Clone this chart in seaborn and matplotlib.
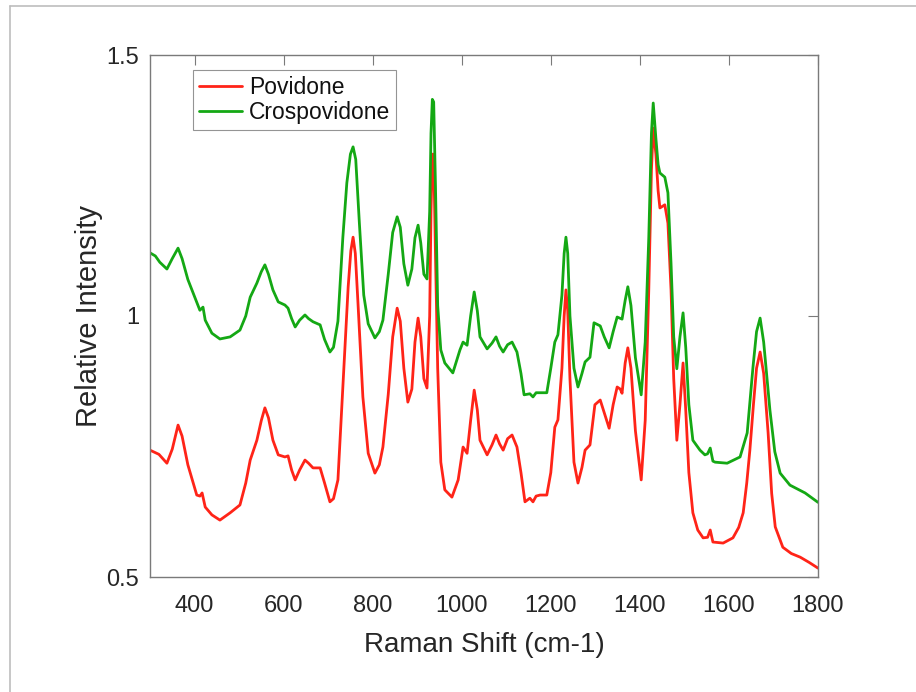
import numpy as np
import pandas as pd
import matplotlib
matplotlib.use("Agg")
import matplotlib.pyplot as plt
from matplotlib.lines import Line2D
import seaborn as sns

series_names = ["Povidone", "Crospovidone"]
series_colors = ["#ff2418", "#14a814"]

povidone_x = [300, 320, 338, 350, 363, 372, 385, 397, 405, 412, 417, 424, 439, 457, 480, 502, 515, 525, 540, 550,
              558, 566, 576, 588, 603, 610, 618, 626, 636, 648, 656, 666, 682, 692, 704, 712, 722, 733, 745, 751,
              756, 761, 767, 778, 790, 805, 815, 823, 835, 845, 855, 862, 870, 879, 888, 895, 902, 908, 915, 922,
              928, 931, 934, 937, 941, 946, 953, 962, 978, 992, 1003, 1012, 1020, 1028, 1035, 1041, 1057, 1068, 1077, 1085,
              1093, 1103, 1113, 1124, 1133, 1142, 1153, 1160, 1167, 1176, 1191, 1200, 1209, 1216, 1225, 1230, 1234, 1238, 1243, 1252,
              1261, 1270, 1277, 1288, 1299, 1311, 1320, 1331, 1340, 1349, 1356, 1360, 1367, 1373, 1380, 1390, 1403, 1412, 1420, 1426,
              1430, 1436, 1441, 1445, 1456, 1463, 1470, 1476, 1483, 1490, 1497, 1503, 1510, 1519, 1530, 1542, 1552, 1558, 1564, 1587,
              1609, 1622, 1632, 1640, 1647, 1655, 1662, 1670, 1678, 1688, 1696, 1704, 1721, 1740, 1760, 1780, 1800]
povidone_y = [0.743, 0.735, 0.718, 0.745, 0.791, 0.770, 0.715, 0.680, 0.657, 0.655, 0.661, 0.634, 0.619, 0.609, 0.623, 0.638, 0.680, 0.724, 0.762, 0.800,
              0.824, 0.805, 0.762, 0.734, 0.730, 0.732, 0.705, 0.686, 0.705, 0.724, 0.718, 0.709, 0.709, 0.680, 0.644, 0.650, 0.686, 0.864, 1.056, 1.125,
              1.151, 1.120, 1.025, 0.845, 0.737, 0.699, 0.715, 0.749, 0.850, 0.960, 1.015, 0.990, 0.900, 0.835, 0.860, 0.950, 0.996, 0.960, 0.880, 0.862,
              1.000, 1.200, 1.310, 1.310, 1.120, 0.900, 0.720, 0.667, 0.653, 0.686, 0.749, 0.737, 0.800, 0.858, 0.820, 0.762, 0.734, 0.753, 0.772, 0.755,
              0.743, 0.765, 0.772, 0.749, 0.700, 0.644, 0.651, 0.644, 0.655, 0.657, 0.657, 0.700, 0.787, 0.801, 0.900, 1.000, 1.050, 1.010, 0.880, 0.720,
              0.680, 0.710, 0.743, 0.753, 0.830, 0.839, 0.815, 0.785, 0.830, 0.864, 0.860, 0.852, 0.910, 0.939, 0.900, 0.780, 0.686, 0.800, 1.050, 1.280,
              1.360, 1.310, 1.240, 1.207, 1.213, 1.178, 1.050, 0.880, 0.762, 0.830, 0.910, 0.820, 0.700, 0.623, 0.590, 0.575, 0.576, 0.590, 0.567, 0.565,
              0.575, 0.595, 0.623, 0.680, 0.743, 0.830, 0.900, 0.931, 0.890, 0.776, 0.660, 0.596, 0.557, 0.545, 0.538, 0.528, 0.517]

crospovidone_x = [300, 312, 322, 338, 350, 363, 372, 385, 397, 412, 419, 424, 439, 457, 480, 502, 515, 525, 540, 550, 558,
                  566, 576, 588, 603, 610, 618, 626, 636, 648, 656, 666, 682, 692, 704, 712, 722, 733, 742, 750, 756,
                  762, 770, 780, 790, 805, 815, 823, 835, 845, 855, 862, 870, 879, 888, 895, 902, 908, 915, 922, 928,
                  931, 934, 937, 941, 946, 953, 962, 980, 996, 1003, 1012, 1020, 1028, 1035, 1041, 1057, 1068, 1077, 1085, 1093,
                  1103, 1113, 1124, 1133, 1140, 1153, 1160, 1167, 1176, 1191, 1200, 1209, 1216, 1225, 1230, 1234, 1238, 1243, 1252, 1261,
                  1270, 1277, 1288, 1297, 1311, 1320, 1331, 1340, 1349, 1360, 1367, 1373, 1380, 1390, 1403, 1412, 1420, 1426, 1430, 1436,
                  1441, 1445, 1456, 1463, 1470, 1476, 1483, 1490, 1497, 1503, 1510, 1519, 1535, 1546, 1552, 1558, 1564, 1569, 1596, 1625,
                  1641, 1654, 1662, 1670, 1678, 1692, 1703, 1715, 1737, 1771, 1800]
crospovidone_y = [1.121, 1.115, 1.103, 1.090, 1.110, 1.130, 1.110, 1.070, 1.044, 1.011, 1.017, 0.992, 0.967, 0.956, 0.960, 0.973, 1.000, 1.036, 1.063, 1.085, 1.098,
                  1.080, 1.050, 1.027, 1.021, 1.015, 0.995, 0.979, 0.992, 1.002, 0.995, 0.989, 0.983, 0.955, 0.931, 0.940, 0.990, 1.150, 1.255, 1.310, 1.324,
                  1.300, 1.180, 1.040, 0.985, 0.958, 0.970, 0.992, 1.080, 1.160, 1.190, 1.170, 1.100, 1.059, 1.090, 1.150, 1.174, 1.140, 1.080, 1.071, 1.200,
                  1.350, 1.415, 1.410, 1.250, 1.020, 0.935, 0.910, 0.891, 0.935, 0.950, 0.944, 1.000, 1.046, 1.010, 0.960, 0.937, 0.948, 0.960, 0.942, 0.931,
                  0.945, 0.950, 0.931, 0.890, 0.849, 0.851, 0.845, 0.853, 0.853, 0.853, 0.900, 0.950, 0.964, 1.040, 1.120, 1.151, 1.120, 1.000, 0.900, 0.864,
                  0.890, 0.912, 0.921, 0.987, 0.981, 0.960, 0.939, 0.970, 0.998, 0.994, 1.030, 1.056, 1.020, 0.920, 0.849, 0.950, 1.150, 1.350, 1.408, 1.340,
                  1.290, 1.274, 1.266, 1.236, 1.100, 0.960, 0.899, 0.960, 1.006, 0.940, 0.830, 0.762, 0.743, 0.734, 0.736, 0.747, 0.722, 0.720, 0.718, 0.730,
                  0.776, 0.902, 0.970, 0.996, 0.950, 0.820, 0.740, 0.699, 0.676, 0.661, 0.643]

x_ticks = [400, 600, 800, 1000, 1200, 1400, 1600, 1800]
y_ticks = [0.5, 1.0, 1.5]
y_tick_labels = ["0.5", "1", "1.5"]

df = pd.concat([
    pd.DataFrame({"x": povidone_x, "y": povidone_y, "series": series_names[0]}),
    pd.DataFrame({"x": crospovidone_x, "y": crospovidone_y, "series": series_names[1]}),
], ignore_index=True)

sns.set_theme(style="white")
plt.rcParams["font.family"] = ["Liberation Sans", "DejaVu Sans"]

fig = plt.figure(figsize=(9.16, 6.92), dpi=100)
ax = fig.add_axes([150 / 916, 1 - 577 / 692, (818 - 150) / 916, (577 - 55) / 692])

sns.lineplot(data=df, x="x", y="y", hue="series", hue_order=series_names,
             palette=dict(zip(series_names, series_colors)), estimator=None, sort=False,
             linewidth=2.0, ax=ax)

ax.set_xlim(300, 1800)
ax.set_ylim(0.5, 1.5)
ax.set_xticks(x_ticks)
ax.set_xticklabels([str(t) for t in x_ticks])
ax.set_yticks(y_ticks)
ax.set_yticklabels(y_tick_labels)
ax.tick_params(direction="in", length=7, width=0.8, color="#7a7a7a", labelsize=17,
               labelcolor="#262626", top=True, right=True)
ax.tick_params(axis="x", pad=13)
ax.tick_params(axis="y", pad=8)
for s in ax.spines.values():
    s.set_visible(True)
    s.set_color("#7a7a7a")
    s.set_linewidth(1.0)
ax.set_xlabel("Raman Shift (cm-1)", fontsize=20, color="#262626", labelpad=10.5)
ax.set_ylabel("Relative Intensity", fontsize=21, color="#262626", labelpad=2)

leg = ax.legend(loc="upper left", bbox_to_anchor=(43 / 668, 1 - 15 / 522), fontsize=16.5,
                frameon=True, fancybox=False, edgecolor="#7a7a7a", handlelength=1.9,
                handletextpad=0.3, borderpad=0.25, labelspacing=0.1, borderaxespad=0)
leg.get_frame().set_linewidth(0.8)
for t in leg.get_texts():
    t.set_color("#111111")

# light frame around the figure
fig.add_artist(Line2D([10 / 916, 10 / 916], [0, 1 - 6 / 692], transform=fig.transFigure,
                      color="#bdbdbd", linewidth=1.2))
fig.add_artist(Line2D([10 / 916, 1], [1 - 6 / 692, 1 - 6 / 692], transform=fig.transFigure,
                      color="#bdbdbd", linewidth=1.2))

fig.savefig("out.png", dpi=100)
